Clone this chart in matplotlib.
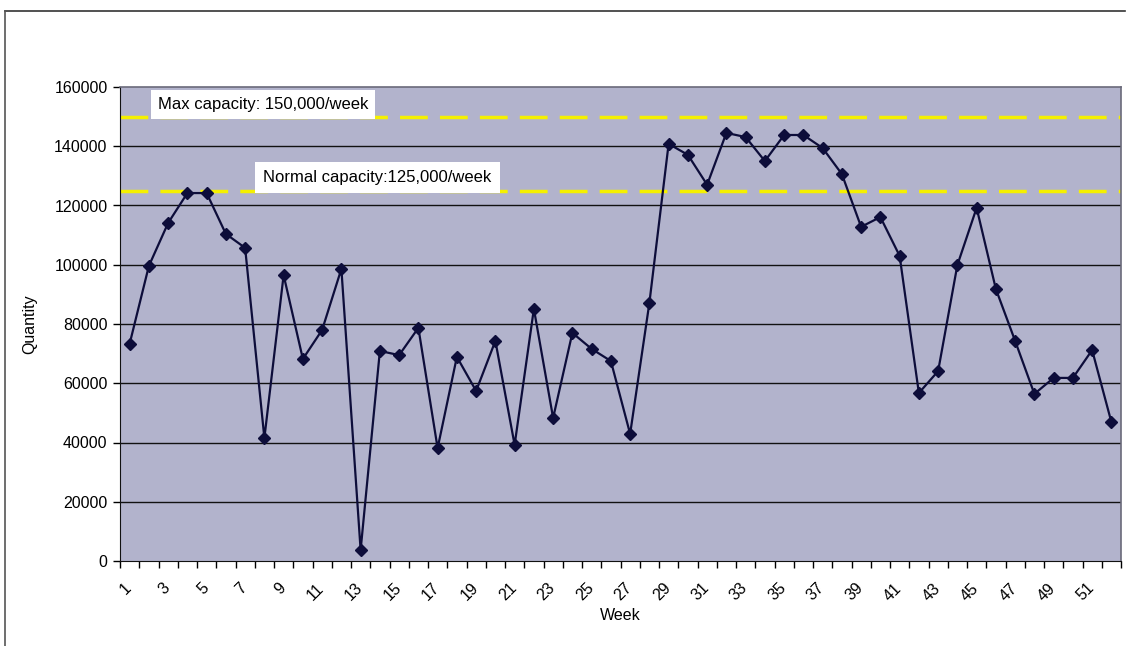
import matplotlib
matplotlib.use("Agg")
import matplotlib.pyplot as plt
from matplotlib.lines import Line2D
import numpy as np

weeks = list(range(1, 53))
quantity = [73300, 99600, 114100, 124200, 124200, 110400, 105700, 41500, 96500, 68200,
            78000, 98600, 3700, 70900, 69500, 78700, 38100, 68900, 57400, 74300,
            39200, 85100, 48300, 77000, 71600, 67500, 42900, 87100, 140800, 137100,
            127000, 144500, 143100, 135000, 143800, 143800, 139400, 130600, 112800, 116100,
            103000, 56700, 64100, 99900, 119200, 91800, 74300, 56400, 61800, 61800,
            71200, 46900]
max_capacity = 150000
normal_capacity = 125000
yticks = [0, 20000, 40000, 60000, 80000, 100000, 120000, 140000, 160000]
xtick_labels = [str(w) if w % 2 == 1 else "" for w in weeks]

plt.rcParams['font.family'] = ['Liberation Sans', 'DejaVu Sans']

fig = plt.figure(figsize=(11.28, 6.46), dpi=100)
fig.patch.set_facecolor('white')
ax = fig.add_axes([120/1128, 1-561/646, 1001/1128, 474/646])
ax.set_facecolor('#b2b3cc')

n = len(weeks)
x = np.arange(n) + 0.5
ax.set_xlim(0, n)
ax.set_ylim(0, 160000)

for yv in yticks[1:-1]:
    ax.axhline(yv, color='#111111', lw=1.0, zorder=1)

ax.axhline(max_capacity, color='#f5f000', lw=2.5, ls=(0, (8, 3.5)), zorder=2)
ax.axhline(normal_capacity, color='#f5f000', lw=2.5, ls=(0, (8, 3.5)), zorder=2)

ax.plot(x, quantity, color='#0d0d3a', lw=1.6, marker='D', markersize=6,
        markerfacecolor='#0d0d3a', markeredgecolor='#0d0d3a', zorder=4)

fs = 11.5
ax.set_yticks(yticks)
ax.set_yticklabels([str(v) for v in yticks], fontsize=fs)
ax.set_xticks(np.arange(n + 1), minor=False)
ax.set_xticklabels([])
ax.set_xticks(x - 0.3, minor=True)
ax.set_xticklabels(xtick_labels, minor=True, rotation=45, ha='right',
                   rotation_mode='anchor', fontsize=fs)
ax.tick_params(axis='x', which='minor', length=0, pad=14)
ax.tick_params(axis='x', which='major', length=5, direction='out', width=1)
ax.tick_params(axis='y', length=5, direction='out', width=1, pad=4)

for side in ['top', 'right']:
    ax.spines[side].set_color('#6a6a7a')
    ax.spines[side].set_linewidth(1.2)
ax.spines['bottom'].set_color('#111111')
ax.spines['left'].set_color('#111111')

ax.set_xlabel('Week', fontsize=fs, labelpad=3)
ax.set_ylabel('Quantity', fontsize=fs, labelpad=12)

ax.text(1.95, 154000, 'Max capacity: 150,000/week', fontsize=12, va='center', ha='left',
        zorder=6, bbox=dict(facecolor='white', edgecolor='none', pad=5))
ax.text(7.45, 129500, 'Normal capacity:125,000/week', fontsize=12, va='center', ha='left',
        zorder=6, bbox=dict(facecolor='white', edgecolor='none', pad=6))

fig.add_artist(Line2D([5/1128, 1125/1128], [1-11/646, 1-11/646], color='#333333', lw=1.2))
fig.add_artist(Line2D([5/1128, 5/1128], [1-11/646, 0], color='#555555', lw=1.2))

fig.savefig('out.png', dpi=100)
